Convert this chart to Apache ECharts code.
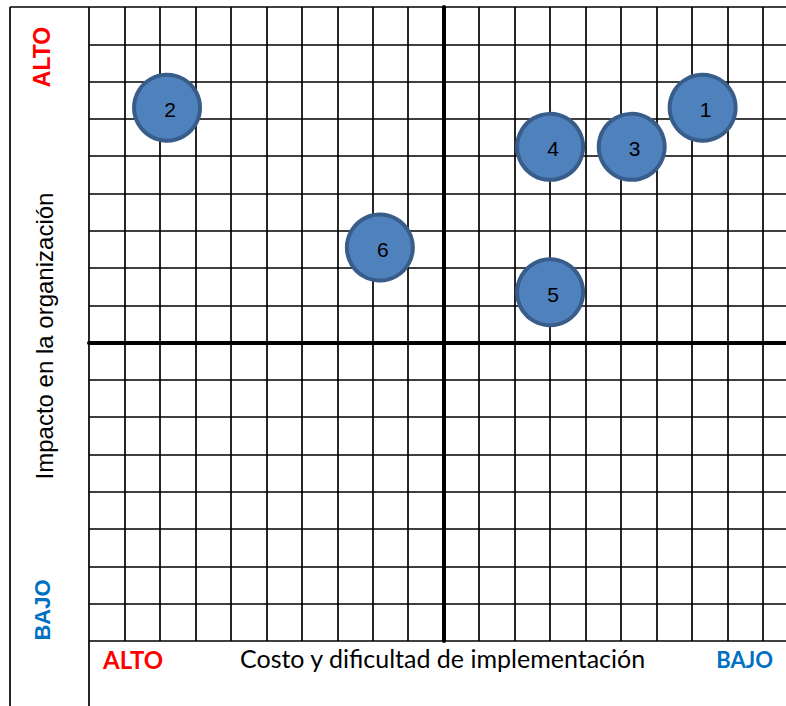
<!DOCTYPE html>
<html>
<head>
<meta charset="utf-8">
<script src="https://cdn.jsdelivr.net/npm/echarts@6/dist/echarts.min.js"></script>
<style>
  html, body { margin: 0; padding: 0; background: #ffffff; }
  #chart { width: 786px; height: 706px; }
</style>
</head>
<body>
<div id="chart"></div>
<script>
// Iniciativas: número, costo/dificultad (eje X) e impacto (eje Y), en celdas de la cuadrícula
const iniciativas = ['1', '2', '3', '4', '5', '6'];
const costoDificultad = [7.3, -7.8, 5.3, 3.0, 3.0, -1.8];
const impactoOrganizacion = [6.3, 6.3, 5.25, 5.25, 1.35, 2.55];

// Extensión de la cuadrícula (una unidad por celda)
const xRango = [-10, 10];
const yRango = [-8, 9];

// Textos de los ejes
const tituloX = 'Costo y dificultad de implementación';
const tituloY = 'Impacto en la organización';
const nivelAlto = 'ALTO';
const nivelBajo = 'BAJO';

const puntos = iniciativas.map((id, i) => ({
  name: id,
  value: [costoDificultad[i], impactoOrganizacion[i]]
}));

const chart = echarts.init(document.getElementById('chart'), null, { renderer: 'svg' });

const lineaCuadricula = { color: '#000000', width: 1.7 };
const lineaEje = { color: '#000000', width: 4 };

chart.setOption({
  animation: false,
  backgroundColor: '#ffffff',
  // La cuadrícula continúa un poco más allá del borde derecho del lienzo
  grid: { left: 89, top: 7, width: 709.4, height: 634, containLabel: false, outerBoundsMode: 'none' },
  xAxis: {
    type: 'value',
    min: xRango[0],
    max: xRango[1],
    interval: 1,
    axisLine: { show: true, onZero: true, lineStyle: lineaEje },
    axisTick: { show: false },
    axisLabel: { show: false },
    splitLine: { show: true, lineStyle: lineaCuadricula }
  },
  yAxis: {
    type: 'value',
    min: yRango[0],
    max: yRango[1],
    interval: 1,
    axisLine: { show: true, onZero: true, lineStyle: lineaEje },
    axisTick: { show: false },
    axisLabel: { show: false },
    splitLine: { show: true, lineStyle: lineaCuadricula }
  },
  series: [{
    type: 'scatter',
    data: puntos,
    symbol: 'circle',
    symbolSize: 66,
    z: 5,
    itemStyle: {
      color: '#4F81BD',
      borderColor: '#385D8A',
      borderWidth: 4,
      opacity: 1
    },
    label: {
      show: true,
      position: 'inside',
      formatter: p => p.name,
      color: '#000000',
      fontFamily: 'Liberation Sans, Arial, sans-serif',
      fontSize: 21,
      offset: [3, 2]
    },
    emphasis: { disabled: true }
  }],
  graphic: [
    // Marco exterior
    { type: 'line', shape: { x1: 10, y1: 7, x2: 89, y2: 7 }, style: { stroke: '#000', lineWidth: 1.7 } },
    { type: 'line', shape: { x1: 10, y1: 7, x2: 10, y2: 706 }, style: { stroke: '#000', lineWidth: 1.7 } },
    { type: 'line', shape: { x1: 89, y1: 641, x2: 89, y2: 706 }, style: { stroke: '#000', lineWidth: 1.7 } },
    // Título del eje vertical y sus extremos
    {
      type: 'text', x: 44, y: 336, rotation: Math.PI / 2,
      style: { text: tituloY, fill: '#000', font: '24px "Liberation Sans", Arial, sans-serif', textAlign: 'center', textVerticalAlign: 'middle' }
    },
    {
      type: 'text', x: 42, y: 57, rotation: Math.PI / 2,
      style: { text: nivelAlto, fill: '#FF0000', font: 'bold 23px "Liberation Sans", Arial, sans-serif', textAlign: 'center', textVerticalAlign: 'middle' }
    },
    {
      type: 'text', x: 42, y: 610, rotation: Math.PI / 2,
      style: { text: nivelBajo, fill: '#0070C0', font: 'bold 22px "Liberation Sans", Arial, sans-serif', textAlign: 'center', textVerticalAlign: 'middle' }
    },
    // Título del eje horizontal y sus extremos
    {
      type: 'text', x: 103, y: 659,
      style: { text: nivelAlto, fill: '#FF0000', font: 'bold 24px Lato, sans-serif', textAlign: 'left', textVerticalAlign: 'middle' }
    },
    {
      type: 'text', x: 240, y: 658,
      style: { text: tituloX, fill: '#000', font: '25px Lato, sans-serif', textAlign: 'left', textVerticalAlign: 'middle' }
    },
    {
      type: 'text', x: 773, y: 659,
      style: { text: nivelBajo, fill: '#0070C0', font: 'bold 22px Lato, sans-serif', textAlign: 'right', textVerticalAlign: 'middle' }
    }
  ]
});
</script>
</body>
</html>
